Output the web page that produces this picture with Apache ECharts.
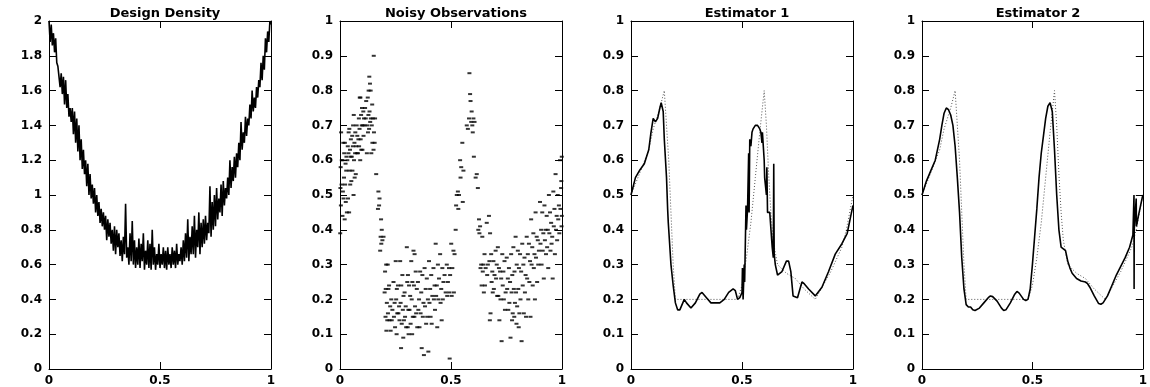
<!DOCTYPE html>
<html>
<head>
<meta charset="utf-8">
<script src="https://cdn.jsdelivr.net/npm/echarts@6/dist/echarts.min.js"></script>
<style>
html,body{margin:0;padding:0;background:#fff;}
#chart{width:1150px;height:387px;}
</style>
</head>
<body>
<div id="chart"></div>
<script>
var titles = ['Design Density', 'Noisy Observations', 'Estimator 1', 'Estimator 2'];

// design density, sampled on an even grid over [0,1]
var densityY = [
  2.0, 1.88, 1.98, 1.86, 1.93, 1.82, 1.9, 1.76, 1.74, 1.68,
  1.62, 1.7, 1.58, 1.68, 1.52, 1.66, 1.5, 1.58, 1.45, 1.5,
  1.42, 1.5, 1.35, 1.48, 1.3, 1.44, 1.25, 1.4, 1.2, 1.32,
  1.15, 1.26, 1.12, 1.2, 1.05, 1.18, 1.0, 1.12, 0.98, 1.06,
  0.95, 1.04, 0.9, 1.0, 0.88, 0.96, 0.84, 0.92, 0.82, 0.9,
  0.8, 0.88, 0.74, 0.86, 0.76, 0.84, 0.72, 0.8, 0.68, 0.82,
  0.66, 0.8, 0.7, 0.78, 0.65, 0.74, 0.62, 0.76, 0.66, 0.95,
  0.64, 0.7, 0.6, 0.78, 0.62, 0.85, 0.6, 0.74, 0.58, 0.7,
  0.6, 0.75, 0.58, 0.72, 0.62, 0.78, 0.57, 0.68, 0.6, 0.74,
  0.58, 0.72, 0.57, 0.8, 0.6, 0.7, 0.57, 0.66, 0.6, 0.72,
  0.58, 0.66, 0.6, 0.7, 0.58, 0.68, 0.57, 0.7, 0.6, 0.66,
  0.58, 0.7, 0.6, 0.68, 0.58, 0.72, 0.6, 0.66, 0.62, 0.7,
  0.6, 0.74, 0.62, 0.78, 0.64, 0.86, 0.62, 0.76, 0.66, 0.82,
  0.66, 0.88, 0.64, 0.8, 0.7, 0.9, 0.66, 0.84, 0.7, 0.86,
  0.72, 0.88, 0.74, 0.84, 0.78, 1.05, 0.76, 0.96, 0.8, 1.0,
  0.82, 1.04, 0.86, 0.98, 0.9, 1.06, 0.88, 1.08, 0.94, 1.04,
  0.98, 1.1, 1.0, 1.2, 1.04, 1.16, 1.08, 1.22, 1.1, 1.24,
  1.16, 1.3, 1.2, 1.42, 1.26, 1.36, 1.3, 1.45, 1.34, 1.44,
  1.4, 1.52, 1.44, 1.6, 1.48, 1.56, 1.5, 1.62, 1.56, 1.66,
  1.62, 1.76, 1.66, 1.8, 1.72, 1.9, 1.82, 1.94, 1.88, 2.0,
  1.98
];

// noisy observations [x, y]
var obsPoints = [
  [0.001,0.39],[0.004,0.47],[0.002,0.52],[0.007,0.53],[0.003,0.58],[0.008,0.6],[0.005,0.68],
  [0.011,0.44],[0.016,0.49],[0.013,0.51],[0.018,0.55],[0.012,0.6],[0.019,0.62],[0.015,0.65],
  [0.021,0.43],[0.026,0.48],[0.023,0.53],[0.028,0.57],[0.025,0.59],[0.029,0.61],[0.022,0.65],
  [0.031,0.45],[0.036,0.49],[0.033,0.6],[0.038,0.62],[0.035,0.64],[0.039,0.68],
  [0.041,0.45],[0.046,0.53],[0.043,0.57],[0.048,0.61],[0.045,0.63],[0.049,0.66],[0.042,0.69],
  [0.051,0.54],[0.056,0.57],[0.053,0.61],[0.058,0.64],[0.055,0.67],[0.059,0.7],
  [0.061,0.5],[0.066,0.55],[0.063,0.6],[0.068,0.62],[0.065,0.65],[0.069,0.68],[0.062,0.73],
  [0.071,0.56],[0.076,0.62],[0.073,0.64],[0.078,0.67],[0.075,0.7],
  [0.081,0.62],[0.086,0.64],[0.083,0.66],[0.088,0.69],[0.085,0.72],[0.089,0.78],
  [0.091,0.6],[0.096,0.63],[0.093,0.66],[0.098,0.7],[0.095,0.73],[0.099,0.75],[0.092,0.78],
  [0.101,0.63],[0.106,0.67],[0.103,0.7],[0.108,0.72],[0.105,0.74],
  [0.111,0.7],[0.116,0.72],[0.113,0.75],[0.118,0.77],
  [0.121,0.62],[0.126,0.68],[0.123,0.7],[0.128,0.73],[0.125,0.78],[0.129,0.8],
  [0.131,0.69],[0.136,0.71],[0.133,0.74],[0.138,0.8],[0.135,0.82],[0.132,0.84],[0.139,0.72],
  [0.141,0.62],[0.146,0.65],[0.143,0.7],[0.148,0.72],[0.145,0.76],[0.152,0.9],
  [0.151,0.63],[0.156,0.65],[0.153,0.68],[0.158,0.72],
  [0.163,0.56],[0.171,0.46],[0.176,0.47],[0.173,0.51],[0.178,0.49],
  [0.181,0.34],[0.186,0.36],[0.183,0.38],[0.188,0.4],[0.185,0.43],[0.191,0.37],[0.196,0.38],
  [0.201,0.22],[0.206,0.23],[0.203,0.28],[0.208,0.3],[0.205,0.15],[0.209,0.11],
  [0.211,0.19],[0.216,0.16],[0.213,0.14],[0.218,0.23],[0.215,0.3],
  [0.221,0.24],[0.226,0.18],[0.223,0.14],[0.228,0.11],
  [0.231,0.2],[0.236,0.17],[0.233,0.14],
  [0.241,0.25],[0.246,0.19],[0.243,0.15],[0.248,0.12],
  [0.251,0.31],[0.256,0.23],[0.253,0.2],[0.258,0.16],[0.255,0.1],
  [0.261,0.24],[0.266,0.18],[0.263,0.16],[0.268,0.14],
  [0.271,0.31],[0.276,0.24],[0.273,0.19],[0.278,0.13],[0.275,0.06],
  [0.281,0.27],[0.286,0.21],[0.283,0.17],[0.288,0.14],[0.285,0.09],
  [0.291,0.22],[0.296,0.18],[0.293,0.15],[0.298,0.12],
  [0.301,0.35],[0.306,0.27],[0.303,0.25],[0.308,0.17],[0.305,0.12],[0.309,0.1],
  [0.311,0.24],[0.316,0.21],[0.313,0.17],[0.318,0.13],
  [0.321,0.31],[0.326,0.25],[0.323,0.2],[0.328,0.15],[0.325,0.1],
  [0.331,0.34],[0.336,0.33],[0.333,0.24],[0.338,0.18],[0.335,0.15],
  [0.341,0.28],[0.346,0.23],[0.343,0.16],[0.348,0.12],
  [0.351,0.25],[0.356,0.2],[0.353,0.17],[0.358,0.12],
  [0.361,0.28],[0.366,0.22],[0.363,0.16],[0.368,0.06],
  [0.371,0.27],[0.376,0.19],[0.373,0.15],[0.378,0.04],
  [0.381,0.29],[0.386,0.23],[0.383,0.18],[0.388,0.13],
  [0.391,0.26],[0.396,0.2],[0.393,0.15],[0.398,0.05],
  [0.401,0.31],[0.406,0.23],[0.403,0.19],[0.408,0.15],
  [0.411,0.27],[0.416,0.21],[0.413,0.13],
  [0.421,0.29],[0.426,0.24],[0.423,0.2],[0.428,0.17],
  [0.431,0.36],[0.436,0.24],[0.433,0.21],[0.438,0.12],
  [0.441,0.3],[0.446,0.26],[0.443,0.2],
  [0.451,0.33],[0.456,0.23],[0.453,0.19],[0.458,0.14],
  [0.461,0.29],[0.466,0.25],[0.463,0.2],
  [0.471,0.27],[0.476,0.22],[0.494,0.03],
  [0.481,0.3],[0.486,0.25],[0.483,0.21],
  [0.491,0.29],[0.496,0.27],[0.493,0.22],
  [0.501,0.36],[0.506,0.29],[0.503,0.21],
  [0.511,0.34],[0.516,0.33],[0.513,0.22],
  [0.521,0.4],[0.526,0.5],[0.523,0.47],
  [0.531,0.51],[0.536,0.5],[0.533,0.46],
  [0.541,0.6],[0.546,0.58],[0.543,0.55],
  [0.551,0.65],[0.556,0.57],[0.553,0.48],
  [0.571,0.7],[0.576,0.69],
  [0.581,0.72],[0.586,0.79],[0.583,0.85],[0.588,0.77],
  [0.591,0.71],[0.596,0.7],[0.593,0.74],[0.598,0.68],
  [0.601,0.72],[0.606,0.71],[0.603,0.61],
  [0.611,0.55],[0.616,0.56],
  [0.621,0.52],[0.626,0.43],[0.623,0.4],[0.628,0.39],
  [0.631,0.41],[0.636,0.3],[0.633,0.29],[0.638,0.24],
  [0.641,0.38],[0.646,0.3],[0.643,0.28],[0.648,0.22],
  [0.651,0.33],[0.656,0.29],[0.653,0.24],
  [0.661,0.42],[0.666,0.3],[0.663,0.27],
  [0.671,0.44],[0.676,0.39],[0.673,0.31],[0.678,0.16],[0.675,0.14],
  [0.681,0.33],[0.686,0.28],[0.683,0.25],[0.688,0.22],
  [0.691,0.31],[0.696,0.27],[0.693,0.23],
  [0.701,0.34],[0.706,0.3],[0.703,0.26],[0.708,0.21],
  [0.711,0.35],[0.716,0.29],[0.713,0.21],[0.718,0.14],
  [0.721,0.28],[0.726,0.26],[0.723,0.2],[0.728,0.08],
  [0.731,0.33],[0.736,0.28],[0.733,0.24],[0.738,0.2],
  [0.741,0.31],[0.746,0.22],[0.743,0.17],
  [0.751,0.32],[0.756,0.26],[0.753,0.23],[0.758,0.17],
  [0.761,0.29],[0.766,0.25],[0.763,0.19],[0.768,0.09],
  [0.771,0.33],[0.776,0.27],[0.773,0.22],[0.778,0.16],[0.775,0.14],
  [0.781,0.35],[0.786,0.28],[0.783,0.23],[0.788,0.19],[0.785,0.15],
  [0.791,0.38],[0.796,0.3],[0.793,0.22],[0.798,0.18],[0.795,0.13],
  [0.801,0.34],[0.806,0.29],[0.803,0.23],[0.808,0.16],[0.805,0.12],
  [0.811,0.33],[0.816,0.28],[0.813,0.2],[0.818,0.08],
  [0.821,0.36],[0.826,0.3],[0.823,0.24],[0.828,0.16],
  [0.831,0.32],[0.836,0.27],[0.833,0.22],[0.838,0.15],
  [0.841,0.38],[0.846,0.33],[0.843,0.26],[0.848,0.2],
  [0.851,0.36],[0.856,0.31],[0.853,0.25],[0.858,0.15],
  [0.861,0.43],[0.866,0.35],[0.863,0.3],[0.868,0.24],
  [0.871,0.39],[0.876,0.33],[0.873,0.29],[0.878,0.2],
  [0.881,0.45],[0.886,0.38],[0.883,0.32],[0.888,0.25],
  [0.891,0.37],[0.896,0.34],[0.893,0.3],
  [0.901,0.48],[0.906,0.4],[0.903,0.36],[0.908,0.3],
  [0.911,0.45],[0.916,0.39],[0.913,0.34],[0.918,0.26],
  [0.921,0.47],[0.926,0.4],[0.923,0.37],[0.928,0.33],
  [0.931,0.44],[0.936,0.4],[0.933,0.35],[0.938,0.29],
  [0.941,0.5],[0.946,0.45],[0.943,0.39],[0.948,0.34],
  [0.951,0.42],[0.956,0.38],[0.953,0.36],[0.958,0.26],
  [0.961,0.51],[0.966,0.46],[0.963,0.41],[0.968,0.33],
  [0.971,0.56],[0.976,0.44],[0.973,0.4],[0.978,0.37],
  [0.981,0.5],[0.986,0.47],[0.983,0.43],[0.988,0.39],
  [0.991,0.6],[0.996,0.52],[0.993,0.46],[0.998,0.41],
  [0.999,0.61],[0.997,0.54],[0.999,0.44]
];

// true regression function (dotted)
var trueX = [0, 0.05, 0.08, 0.1, 0.13, 0.15, 0.155, 0.17, 0.19, 0.2, 0.48, 0.5, 0.52, 0.54, 0.56, 0.58, 0.6, 0.61, 0.62, 0.63, 0.64, 0.66, 0.7, 0.74, 0.78, 0.83, 0.9, 0.95, 0.97, 1.0];
var trueY = [0.5, 0.58, 0.63, 0.69, 0.75, 0.8, 0.75, 0.6, 0.3, 0.2, 0.2, 0.24, 0.32, 0.42, 0.55, 0.68, 0.8, 0.7, 0.56, 0.45, 0.37, 0.3, 0.275, 0.26, 0.23, 0.2, 0.28, 0.35, 0.4, 0.5];

// estimator 1 (solid)
var est1X = [0, 0.02, 0.04, 0.06, 0.08, 0.09, 0.1, 0.11, 0.12, 0.13, 0.136, 0.145, 0.15, 0.16, 0.165, 0.168, 0.17, 0.18, 0.19, 0.2, 0.21, 0.22, 0.24, 0.25, 0.27, 0.29, 0.31, 0.32, 0.34, 0.36, 0.38, 0.4, 0.42, 0.44, 0.46, 0.47, 0.48, 0.49, 0.495, 0.5, 0.502, 0.505, 0.51, 0.512, 0.518, 0.52, 0.525, 0.53, 0.532, 0.535, 0.54, 0.545, 0.55, 0.56, 0.57, 0.58, 0.585, 0.59, 0.592, 0.6, 0.602, 0.61, 0.612, 0.615, 0.625, 0.636, 0.641, 0.643, 0.645, 0.65, 0.66, 0.68, 0.7, 0.71, 0.72, 0.73, 0.75, 0.77, 0.78, 0.8, 0.83, 0.86, 0.89, 0.92, 0.95, 0.974, 0.99, 1.0];
var est1Y = [0.5, 0.55, 0.572, 0.59, 0.63, 0.68, 0.72, 0.71, 0.72, 0.75, 0.765, 0.74, 0.66, 0.55, 0.46, 0.42, 0.4, 0.3, 0.24, 0.19, 0.17, 0.17, 0.2, 0.19, 0.175, 0.19, 0.215, 0.22, 0.205, 0.19, 0.19, 0.19, 0.2, 0.22, 0.23, 0.225, 0.2, 0.205, 0.2, 0.22, 0.29, 0.2, 0.3, 0.25, 0.47, 0.4, 0.46, 0.62, 0.45, 0.66, 0.64, 0.68, 0.69, 0.7, 0.7, 0.69, 0.68, 0.65, 0.68, 0.6, 0.55, 0.5, 0.58, 0.45, 0.45, 0.35, 0.32, 0.59, 0.33, 0.3, 0.27, 0.28, 0.31, 0.31, 0.28, 0.21, 0.205, 0.25, 0.245, 0.23, 0.21, 0.235, 0.28, 0.33, 0.36, 0.39, 0.44, 0.47];

// estimator 2 (solid)
var est2X = [0, 0.02, 0.04, 0.06, 0.08, 0.09, 0.1, 0.11, 0.12, 0.13, 0.14, 0.15, 0.16, 0.17, 0.18, 0.19, 0.2, 0.21, 0.22, 0.23, 0.24, 0.26, 0.28, 0.3, 0.31, 0.32, 0.34, 0.36, 0.37, 0.38, 0.4, 0.42, 0.43, 0.44, 0.46, 0.47, 0.48, 0.49, 0.5, 0.51, 0.52, 0.53, 0.54, 0.55, 0.56, 0.57, 0.58, 0.59, 0.6, 0.61, 0.62, 0.63, 0.64, 0.65, 0.66, 0.67, 0.68, 0.7, 0.72, 0.74, 0.75, 0.76, 0.78, 0.8, 0.81, 0.82, 0.84, 0.86, 0.88, 0.9, 0.92, 0.94, 0.955, 0.96, 0.9605, 0.961, 0.97, 0.971, 0.98, 0.99, 1.0];
var est2Y = [0.5, 0.54, 0.57, 0.6, 0.66, 0.7, 0.735, 0.75, 0.745, 0.73, 0.7, 0.64, 0.55, 0.45, 0.32, 0.23, 0.185, 0.178, 0.178, 0.17, 0.168, 0.175, 0.19, 0.205, 0.21, 0.208, 0.195, 0.175, 0.168, 0.17, 0.19, 0.215, 0.223, 0.218, 0.2, 0.197, 0.2, 0.23, 0.3, 0.38, 0.46, 0.55, 0.62, 0.67, 0.72, 0.755, 0.765, 0.74, 0.63, 0.5, 0.4, 0.35, 0.345, 0.34, 0.31, 0.29, 0.275, 0.26, 0.253, 0.25, 0.245, 0.235, 0.21, 0.188, 0.186, 0.19, 0.21, 0.24, 0.27, 0.295, 0.32, 0.35, 0.385, 0.5, 0.23, 0.4, 0.49, 0.41, 0.44, 0.47, 0.5];

function pairs(xs, ys) {
  return xs.map(function (x, i) { return [x, ys[i]]; });
}
var densityData = densityY.map(function (v, i) { return [i / (densityY.length - 1), v]; });

var gridLefts = [49, 340, 631, 922];
var font = 'DejaVu Sans';
var chart = echarts.init(document.getElementById('chart'), null, { renderer: 'canvas' });

var grids = [], xAxes = [], yAxes = [], titleList = [];
gridLefts.forEach(function (left, i) {
  grids.push({ left: left, top: 21, width: 222, height: 348 });
  titleList.push({
    text: titles[i], left: left + 111, top: 2, textAlign: 'center',
    textStyle: { fontFamily: font, fontSize: 13, fontWeight: 'bold', color: '#000' }
  });
  var ymax = i === 0 ? 2 : 1;
  var yint = i === 0 ? 0.2 : 0.1;
  var line = { show: true, onZero: false, lineStyle: { color: '#000', width: 1 } };
  var tick = { show: true, inside: true, length: 7, lineStyle: { color: '#000', width: 1 } };
  var label = { color: '#000', fontFamily: font, fontSize: 12, fontWeight: 'bold', margin: 6, showMinLabel: true, showMaxLabel: true };
  xAxes.push({ type: 'value', gridIndex: i, position: 'bottom', min: 0, max: 1, interval: 0.5,
    axisLine: line, axisTick: tick, axisLabel: label, splitLine: { show: false } });
  xAxes.push({ type: 'value', gridIndex: i, position: 'top', min: 0, max: 1, interval: 0.5,
    axisLine: line, axisTick: tick, axisLabel: { show: false }, splitLine: { show: false } });
  yAxes.push({ type: 'value', gridIndex: i, position: 'left', min: 0, max: ymax, interval: yint,
    axisLine: line, axisTick: tick, axisLabel: Object.assign({}, label, { margin: 7 }), splitLine: { show: false } });
  yAxes.push({ type: 'value', gridIndex: i, position: 'right', min: 0, max: ymax, interval: yint,
    axisLine: line, axisTick: tick, axisLabel: { show: false }, splitLine: { show: false } });
});

function lineSeries(gi, data, style) {
  return {
    type: 'line', xAxisIndex: gi * 2, yAxisIndex: gi * 2, data: data,
    showSymbol: false, symbol: 'none', smooth: false, silent: true,
    lineStyle: style
  };
}

var solid = { color: '#000', width: 1.6 };
var dotted = { color: '#555', width: 1, type: [1, 2] };

var series = [
  lineSeries(0, densityData, { color: '#000', width: 1.6 }),
  {
    type: 'scatter', xAxisIndex: 2, yAxisIndex: 2, data: obsPoints,
    symbol: 'rect', symbolSize: [4, 2], itemStyle: { color: '#000' }, silent: true
  },
  lineSeries(2, pairs(trueX, trueY), dotted),
  lineSeries(2, pairs(est1X, est1Y), solid),
  lineSeries(3, pairs(trueX, trueY), dotted),
  lineSeries(3, pairs(est2X, est2Y), solid)
];

chart.setOption({
  animation: false,
  backgroundColor: '#fff',
  title: titleList,
  grid: grids,
  xAxis: xAxes,
  yAxis: yAxes,
  series: series
});
</script>
</body>
</html>
